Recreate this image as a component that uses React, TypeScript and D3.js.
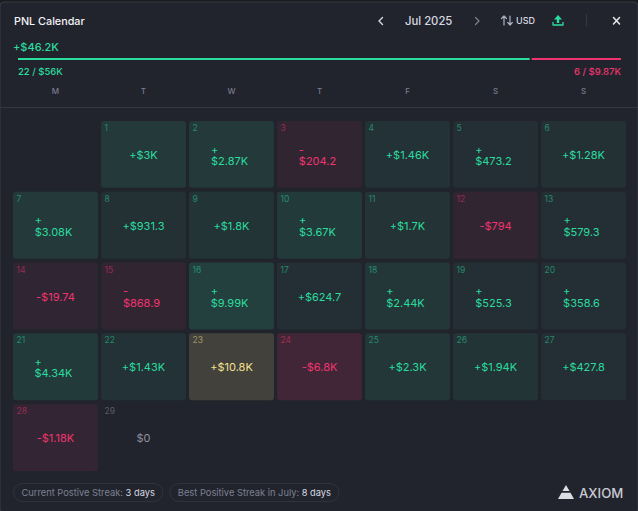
import * as React from "react";
import * as d3 from "d3";

const weekdays = ["M", "T", "W", "T", "F", "S", "S"];
// daily pnl for Jul 2025, day 1 falls on the second column
const dailyPnl = [
  3000, 2870, -204.2, 1460, 473.2, 1280, 3080, 931.3, 1800, 3670, 1700, -794, 579.3, -19.74, -868.9,
  9990, 624.7, 2440, 525.3, 358.6, 4340, 1430, 10800, -6800, 2300, 1940, 427.8, -1180, 0,
];
// days whose label wraps after the sign in the original
const wrappedDays = [2, 3, 5, 7, 10, 13, 15, 16, 18, 19, 20, 21];
const winTotal = 56000;
const lossTotal = 9870;
const winLabel = "22 / $56K";
const lossLabel = "6 / $9.87K";
const netLabel = "+$46.2K";
const streaks = [
  { label: "Current Postive Streak:", days: "3 days" },
  { label: "Best Positive Streak in July:", days: "8 days" },
];

const W = 638;
const H = 511;
const FONT = "Inter, 'Noto Sans', sans-serif";
const GREEN = "#2bdc9f";
const RED = "#f0346f";
const GOLD = "#f3e08e";

function money(v: number) {
  const a = Math.abs(v);
  const body = a >= 1000 ? `${+(a / 1000).toPrecision(3)}K` : `${+a.toPrecision(4)}`;
  return `$${body}`;
}

const x = d3.scaleBand<number>().domain(d3.range(7)).range([13, 626]).paddingInner(0.0345).paddingOuter(0);
const y = d3.scaleBand<number>().domain(d3.range(5)).range([121, 471]).paddingInner(0.0555).paddingOuter(0);
const split = d3.scaleLinear().domain([0, winTotal + lossTotal]).range([18, 621]);
const strength = d3.scaleLinear().domain([0, 1000, 3000, 10800]).range([0.055, 0.065, 0.115, 0.155]).clamp(true);

function cellFill(v: number) {
  if (v === 0) return "none";
  const base = d3.rgb("#22242d");
  const tint = d3.rgb(v === d3.max(dailyPnl) ? GOLD : v > 0 ? GREEN : RED);
  return d3.interpolateRgb(base, tint)(strength(Math.abs(v)) + (v < 0 ? 0.015 : 0));
}

function textColor(v: number) {
  if (v === 0) return "#8d90a0";
  if (v === d3.max(dailyPnl)) return GOLD;
  return v > 0 ? GREEN : RED;
}

function drawChart(node: SVGSVGElement) {
  const svg = d3.select(node);
  svg.selectAll("*").remove();

  svg.append("rect").attr("width", W).attr("height", H).attr("fill", "#1b1c22");
  svg.append("rect").attr("x", 0).attr("y", 2).attr("width", W).attr("height", H).attr("rx", 4)
    .attr("fill", "#22242d").attr("stroke", "#373944").attr("stroke-width", 1);

  const text = (tx: number, ty: number, s: string, size: number, fill: string, anchor = "start", weight = 400) =>
    svg.append("text").attr("x", tx).attr("y", ty).attr("font-size", size).attr("fill", fill)
      .attr("text-anchor", anchor).attr("font-weight", weight).attr("font-family", FONT).text(s);

  text(14, 25, "PNL Calendar", 10.8, "#f2f3f7", "start", 500);
  text(13, 51, netLabel, 11, GREEN, "start", 500);
  text(405, 25, "Jul 2025", 11.3, "#d8dae2", "start", 500);
  text(516, 24, "USD", 9, "#d8dae2", "start", 500);

  // header icons
  const icon = (d: string, stroke: string, sw = 1.3) =>
    svg.append("path").attr("d", d).attr("fill", "none").attr("stroke", stroke).attr("stroke-width", sw)
      .attr("stroke-linecap", "round").attr("stroke-linejoin", "round");
  icon("M382.5 17.5L379 21L382.5 24.5", "#d8dae2", 1.4);
  icon("M475.5 17.5L479 21L475.5 24.5", "#7d8090", 1.2);
  icon("M504 25V16M501.5 18.5L504 16L506.5 18.5", "#aeb1c0", 1.2);
  icon("M510 16V25M507.8 22.5L510 25L512.3 22.5", "#aeb1c0", 1.2);
  svg.append("path").attr("d", "M558 15L562 19.5H559.2V23H556.8V19.5H554Z").attr("fill", GREEN);
  icon("M553 22.5V25H563V22.5", GREEN, 1.3);
  icon("M613.5 17.5L619.5 24M619.5 17.5L613.5 24", "#e6e8ee", 1.5);
  svg.append("line").attr("x1", 586.5).attr("x2", 586.5).attr("y1", 14).attr("y2", 27).attr("stroke", "#343641");

  // win / loss split bar
  svg.append("rect").attr("x", split(0)).attr("y", 58).attr("width", split(winTotal) - split(0) - 1).attr("height", 2).attr("fill", GREEN);
  svg.append("rect").attr("x", split(winTotal) + 1).attr("y", 58).attr("width", split(winTotal + lossTotal) - split(winTotal) - 1).attr("height", 2).attr("fill", RED);
  text(18, 75, winLabel, 9.5, GREEN, "start", 500);
  text(621, 75, lossLabel, 9.5, RED, "end", 500);

  weekdays.forEach((d, i) => {
    text(x(i)! + x.bandwidth() / 2, 94, d, 8, "#777a8c", "middle", 500);
  });
  svg.append("line").attr("x1", 0).attr("x2", W).attr("y1", 107.5).attr("y2", 107.5).attr("stroke", "#353742");

  // calendar cells
  dailyPnl.forEach((v, i) => {
    const day = i + 1;
    const col = (i + 1) % 7;
    const row = Math.floor((i + 1) / 7);
    const cx = x(col)!;
    const cy = y(row)!;
    const color = textColor(v);
    svg.append("rect").attr("x", cx).attr("y", cy).attr("width", x.bandwidth()).attr("height", y.bandwidth())
      .attr("rx", 3).attr("fill", cellFill(v));
    text(cx + 3.5, cy + 10, String(day), 8.5, color, "start", 400).attr("opacity", 0.5);

    const sign = v > 0 ? "+" : v < 0 ? "-" : "";
    const midX = cx + x.bandwidth() / 2;
    const midY = cy + y.bandwidth() / 2;
    if (wrappedDays.includes(day)) {
      // sign sits on its own line, left aligned with the amount
      const label = text(0, midY - 0.8, "", 11, color);
      const signLine = label.append("tspan").text(sign);
      const amount = label.append("tspan").attr("dy", 11.3).text(money(v));
      const w = (amount.node() as SVGTSpanElement).getComputedTextLength();
      signLine.attr("x", midX - w / 2 - 2);
      amount.attr("x", midX - w / 2 - 2);
    } else {
      text(midX, midY + 4.5, sign + money(v), 11, color, "middle", 400);
    }
  });

  // streak pills
  let px = 13.5;
  streaks.forEach((s) => {
    const g = text(px + 8, 496, s.label + " ", 9.3, "#7d8092");
    g.append("tspan").attr("fill", "#d8dae2").text(s.days);
    const w = (g.node() as SVGTextElement).getComputedTextLength() + 16;
    svg.append("rect").attr("x", px).attr("y", 483.5).attr("width", w).attr("height", 18).attr("rx", 9)
      .attr("fill", "none").attr("stroke", "#30323d");
    px += w + 7;
  });

  // logo
  svg.append("path").attr("d", "M566 485L569.5 491H562.5Z").attr("fill", "#dcdde3");
  svg.append("path").attr("d", "M561.5 492.8H570.5L574 499H558Z").attr("fill", "#dcdde3");
  text(579, 498, "AXIOM", 13.2, "#c9cad2", "start", 500);
}

export default function App() {
  const ref = React.useRef<SVGSVGElement>(null);
  React.useEffect(() => {
    if (ref.current) drawChart(ref.current);
  }, []);
  return <svg ref={ref} width={W} height={H} style={{ position: "absolute", top: 0, left: 0, display: "block" }} />;
}
